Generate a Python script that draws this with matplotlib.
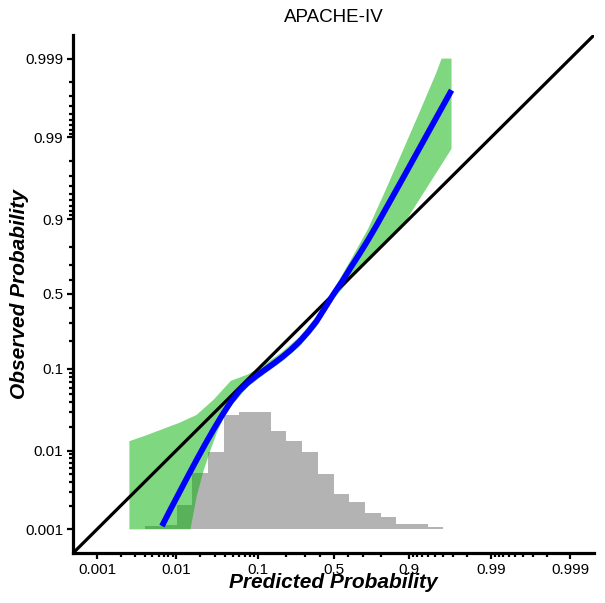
import numpy as np
import matplotlib.pyplot as plt

# all values below are on the logit scale

# calibration curve: predicted (x) vs observed (y)
curve_x = [-5.01, -4.75, -4.5, -4.25, -4.0, -3.75, -3.5, -3.25, -3.0, -2.75, -2.5, -2.25, -2.0, -1.75,
           -1.5, -1.25, -1.0, -0.75, -0.5, -0.25, 0.0, 0.25, 0.5, 0.75, 1.0, 1.25, 1.5, 2.0, 2.5, 3.0, 3.44]
curve_y = [-6.81, -6.30, -5.82, -5.34, -4.87, -4.41, -3.97, -3.55, -3.16, -2.84, -2.60, -2.40, -2.22, -2.04,
           -1.85, -1.64, -1.40, -1.12, -0.80, -0.40, 0.0, 0.37, 0.78, 1.17, 1.58, 2.01, 2.46, 3.36, 4.27, 5.18, 5.98]

# confidence band edges (clipped at 0.001 / 0.999)
upper_x = [-5.96, -5.5, -5.0, -4.5, -4.0, -3.5, -3.0, -2.5, -2.0, -1.5, -1.0, -0.5, 0.0, 0.5, 1.0, 1.5,
           2.0, 2.5, 3.0, 3.15, 3.44]
upper_y = [-4.32, -4.16, -3.97, -3.78, -3.55, -3.10, -2.55, -2.36, -2.06, -1.70, -1.26, -0.66, 0.13, 1.0,
           1.9, 3.01, 4.16, 5.32, 6.50, 6.907, 6.907]
lower_x = [-5.96, -4.18, -4.0, -3.8, -3.6, -3.4, -3.2, -3.0, -2.5, -2.0, -1.5, -1.0, -0.5, 0.0, 0.5, 1.0,
           1.5, 2.13, 2.5, 3.0, 3.44]
lower_y = [-6.907, -6.907, -5.95, -5.2, -4.6, -4.05, -3.62, -3.30, -2.72, -2.34, -1.98, -1.55, -0.96, -0.15,
           0.45, 1.0, 1.55, 2.18, 2.77, 3.56, 4.26]

# histogram of predicted risk
hist_edges = np.linspace(-5.50, 3.66, 21)
hist_counts = [3, 4, 24, 56, 77, 114, 117, 117, 98, 88, 77, 55, 35, 27, 16, 12, 5, 5, 2.4, 0.7]

major = [0.001, 0.01, 0.1, 0.5, 0.9, 0.99, 0.999]
major_labels = ['0.001', '0.01', '0.1', '0.5', '0.9', '0.99', '0.999']
minor = ([i / 1000 for i in range(2, 10)] + [i / 100 for i in range(2, 10)] +
         [0.2, 0.3, 0.4, 0.6, 0.7, 0.8] +
         [1 - i / 100 for i in range(2, 10)] + [1 - i / 1000 for i in range(2, 10)])

lim = (0.0005, 0.9995)


def expit(v):
    return 1 / (1 + np.exp(-np.asarray(v, dtype=float)))


plt.rcParams['font.family'] = ['Liberation Sans', 'DejaVu Sans']

fig = plt.figure(figsize=(6.05, 6.03), dpi=100)
ax = fig.add_axes([0.121, 0.083, 0.861, 0.859])
ax.set_xscale('logit')
ax.set_yscale('logit')
ax.set_xlim(lim)
ax.set_ylim(lim)

# histogram drawn in a hidden twin axes behind the main one, sitting on the 0.001 line
ax2 = ax.twinx()
ax2.set_zorder(ax.get_zorder() - 1)
ax.patch.set_visible(False)
lo, hi = np.log(lim[0] / lim[1]), np.log(lim[1] / lim[0])
base_frac = (np.log(0.001 / 0.999) - lo) / (hi - lo)
span = 518
ax2.set_ylim(-base_frac * span, (1 - base_frac) * span)
ax2.stairs(hist_counts, expit(hist_edges), baseline=0, fill=True, color='#b3b3b3', lw=0)
ax2.set_yticks([])
for s in ax2.spines.values():
    s.set_visible(False)

# band, identity line, curve
band_x = np.concatenate([expit(upper_x), expit(lower_x)[::-1]])
band_y = np.concatenate([expit(upper_y), expit(lower_y)[::-1]])
ax.fill(band_x, band_y, color='#00b000', alpha=0.5, lw=0, zorder=2)
ax.plot(lim, lim, color='black', lw=2.3, zorder=3)
ax.plot(expit(curve_x), expit(curve_y), color='#0000ff', lw=4.2, zorder=4, solid_capstyle='butt')

for a in (ax.xaxis, ax.yaxis):
    a.set_major_locator(plt.FixedLocator(major))
    a.set_minor_locator(plt.FixedLocator(minor))
    a.set_minor_formatter(plt.NullFormatter())
ax.set_xticklabels(major_labels)
ax.set_yticklabels(major_labels)
ax.tick_params(which='major', length=4, width=1.6, labelsize=11, pad=3)
ax.tick_params(which='minor', length=3, width=1.6)

ax.spines['top'].set_visible(False)
ax.spines['right'].set_visible(False)
ax.spines['left'].set_linewidth(2.3)
ax.spines['bottom'].set_linewidth(2.3)

ax.set_title('APACHE-IV', fontsize=13.5, pad=9)
ax.set_xlabel('Predicted Probability', fontsize=15, fontweight='bold', fontstyle='italic')
ax.set_ylabel('Observed Probability', fontsize=15, fontweight='bold', fontstyle='italic')
ax.xaxis.set_label_coords(0.5, -0.039)
ax.yaxis.set_label_coords(-0.084, 0.5)

plt.savefig('out.png', dpi=100)
